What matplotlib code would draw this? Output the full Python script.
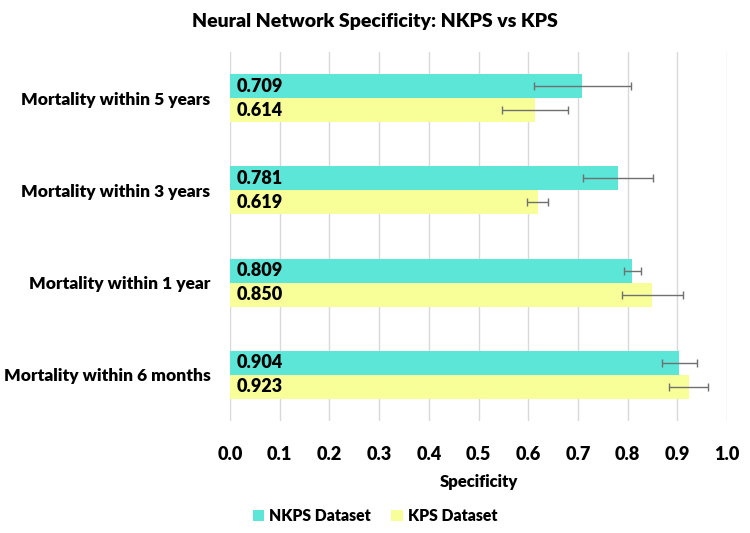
import matplotlib
matplotlib.use("Agg")
import matplotlib.pyplot as plt
import numpy as np

plt.rcParams['font.family'] = ['Lato', 'DejaVu Sans']

categories = ["Mortality within 5 years", "Mortality within 3 years",
              "Mortality within 1 year", "Mortality within 6 months"]
nkps = [0.709, 0.781, 0.809, 0.904]
kps = [0.614, 0.619, 0.850, 0.923]
nkps_err = [0.097, 0.070, 0.017, 0.035]
kps_err = [0.067, 0.021, 0.062, 0.039]
xticks = [0.0, 0.1, 0.2, 0.3, 0.4, 0.5, 0.6, 0.7, 0.8, 0.9, 1.0]

teal = "#5BE6D7"
yellow = "#F8FE98"
W = "heavy"

fig = plt.figure(figsize=(7.5, 5.33), dpi=100)
ax = fig.add_axes([230/750, 1-421/533, 497/750, (421-52)/533])

y = np.arange(len(categories))
h = 0.26
ax.barh(y - h/2, nkps, height=h, color=teal, label="NKPS Dataset", zorder=2,
        xerr=nkps_err, error_kw=dict(ecolor="#707070", elinewidth=1, capsize=3, capthick=1))
ax.barh(y + h/2, kps, height=h, color=yellow, label="KPS Dataset", zorder=2,
        xerr=kps_err, error_kw=dict(ecolor="#707070", elinewidth=1, capsize=3, capthick=1))

for i in range(len(categories)):
    ax.text(0.014, y[i] - h/2, f"{nkps[i]:.3f}", va="center", ha="left",
            fontsize=13, fontweight=W, color="black", zorder=3)
    ax.text(0.014, y[i] + h/2, f"{kps[i]:.3f}", va="center", ha="left",
            fontsize=13, fontweight=W, color="black", zorder=3)

ax.set_ylim(len(categories) - 0.5, -0.5)
ax.set_xlim(0, 1.0)
ax.set_yticks(y)
ax.set_yticklabels(categories, fontsize=12.5, fontweight=W)
ax.set_xticks(xticks)
ax.set_xticklabels([f"{t:.1f}" for t in xticks], fontsize=13, fontweight=W)
ax.tick_params(axis="both", length=0)
ax.tick_params(axis="x", pad=18)
ax.tick_params(axis="y", pad=14)
ax.grid(axis="x", color="#d9d9d9", linewidth=1, zorder=0)
for s in ax.spines.values():
    s.set_visible(False)

ax.set_xlabel("Specificity", fontsize=12, fontweight=W, labelpad=8)
fig.suptitle("Neural Network Specificity: NKPS vs KPS", fontsize=14,
             fontweight=W, y=0.975)

fig.legend(loc="center", bbox_to_anchor=(0.5, 1-516/533), ncol=2, frameon=False,
           prop=dict(weight=W, size=11.3), handlelength=0.75, handleheight=0.75,
           columnspacing=1.3, handletextpad=0.3)

fig.savefig("out.png", dpi=100)
